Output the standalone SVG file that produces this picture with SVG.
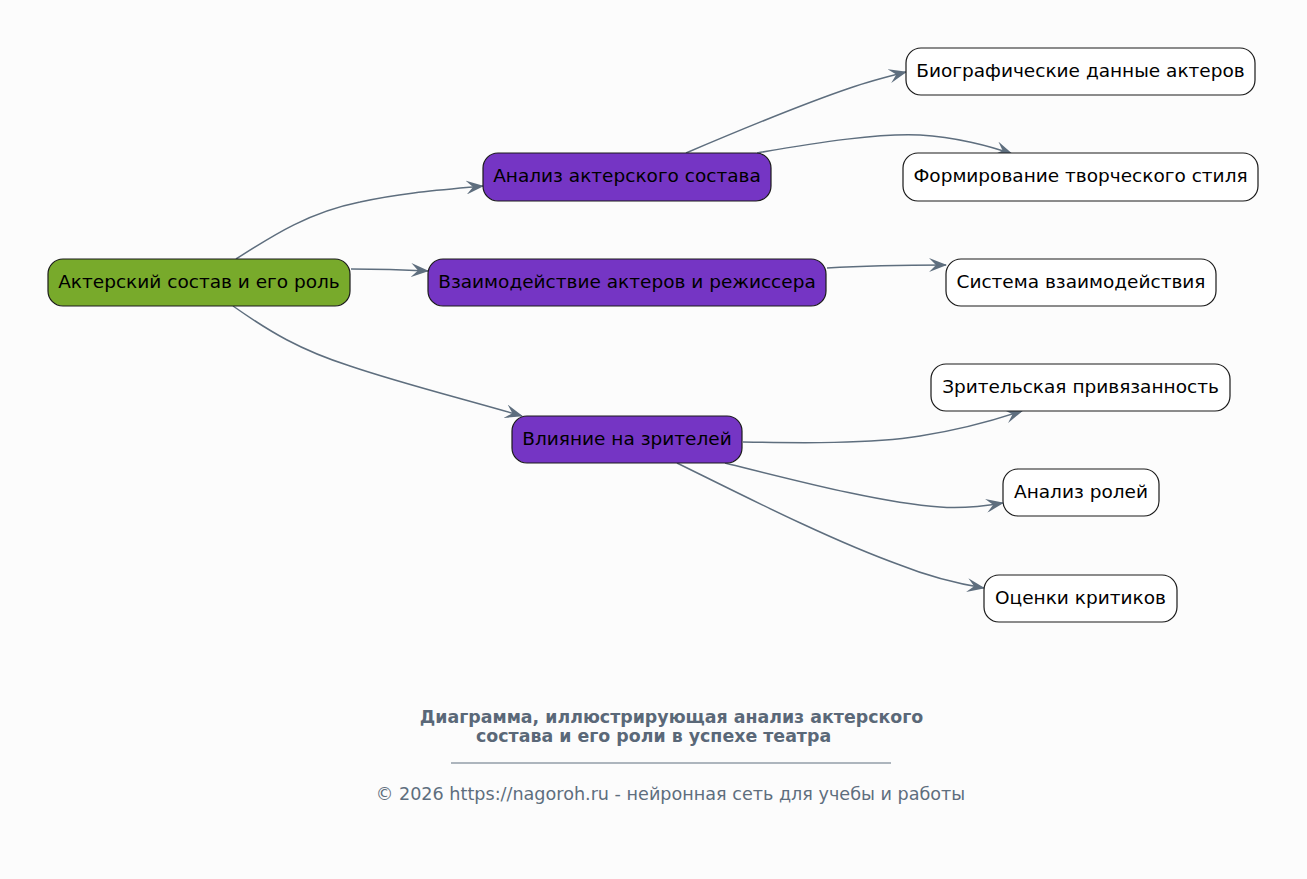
<svg xmlns="http://www.w3.org/2000/svg" width="1307" height="879" viewBox="0 0 1307 879">
<defs>
<style>
.bg{fill:#fcfcfc}
.n rect{stroke:#1a1a1a;stroke-width:1.2}
.root rect{fill:#78aa2b}
.mid rect{fill:#7535c4}
.leaf rect{fill:#ffffff}
.n text{font-family:"DejaVu Sans",sans-serif;font-size:18.5px;fill:#000;text-anchor:middle}
.e path{fill:none;stroke:#5e6e7e;stroke-width:1.5;marker-end:url(#ah)}
.t{font-family:"DejaVu Sans",sans-serif;font-size:17.4px;font-weight:bold;fill:#5a6878}
.f{font-family:"DejaVu Sans",sans-serif;font-size:17.6px;fill:#5e6e7e}
</style>
<marker id="ah" viewBox="0 0 18 14" refX="17" refY="7" markerWidth="18" markerHeight="14" markerUnits="userSpaceOnUse" orient="auto">
<path d="M0,0 L18,7 L0,14 L7,7 z" fill="#5e6e7e"/>
</marker>
</defs>
<rect class="bg" x="0" y="0" width="1307" height="879"/>
<g id="edges" class="e">
<path d="M236,259 C275,234 310,212 360,202 C400,193 440,190 483,186"/>
<path d="M351,269 C370,269 390,269 428,271"/>
<path d="M233,306 C270,332 300,350 350,366 C400,383 460,398 522,416"/>
<path d="M686,153 C740,130 800,105 850,88 C870,81 890,76 906,72"/>
<path d="M757,153 C820,142 880,133 920,135 C955,137 990,146 1012,154"/>
<path d="M827,268 C860,266 900,265 946,265"/>
<path d="M743,442 C800,443 870,444 920,436 C960,430 995,420 1022,411"/>
<path d="M725,463 C790,479 880,503 940,507 C965,509 985,506 1003,503"/>
<path d="M677,463 C740,494 830,540 900,565 C930,577 960,584 984,588"/>
</g>
<g id="n_root" class="n root"><rect x="48" y="259" width="302" height="47" rx="15"/><text x="199" y="288">Актерский состав и его роль</text></g>
<g id="n_analiz" class="n mid"><rect x="483" y="153" width="288" height="48" rx="15"/><text x="627" y="182">Анализ актерского состава</text></g>
<g id="n_vzaim" class="n mid"><rect x="428" y="259" width="398" height="47" rx="15"/><text x="627" y="288">Взаимодействие актеров и режиссера</text></g>
<g id="n_vliyanie" class="n mid"><rect x="512" y="416" width="230" height="47" rx="15"/><text x="627" y="445">Влияние на зрителей</text></g>
<g id="n_bio" class="n leaf"><rect x="906" y="48" width="349" height="47" rx="15"/><text x="1080.5" y="77">Биографические данные актеров</text></g>
<g id="n_form" class="n leaf"><rect x="903" y="153" width="355" height="48" rx="15"/><text x="1080.5" y="182">Формирование творческого стиля</text></g>
<g id="n_sist" class="n leaf"><rect x="946" y="259" width="270" height="47" rx="15"/><text x="1081" y="288">Система взаимодействия</text></g>
<g id="n_zrit" class="n leaf"><rect x="931" y="364" width="299" height="47" rx="15"/><text x="1080.5" y="393">Зрительская привязанность</text></g>
<g id="n_roli" class="n leaf"><rect x="1003" y="469" width="156" height="47" rx="15"/><text x="1081" y="498">Анализ ролей</text></g>
<g id="n_krit" class="n leaf"><rect x="984" y="575" width="193" height="47" rx="15"/><text x="1080.5" y="604">Оценки критиков</text></g>
<g id="caption">
<text class="t" x="671.5" y="723" text-anchor="middle">Диаграмма, иллюстрирующая анализ актерского</text>
<text class="t" x="476" y="742">состава и его роли в успехе театра</text>
<line x1="451" y1="763" x2="891" y2="763" stroke="#5e6e7e" stroke-width="1"/>
<text class="f" x="670.5" y="800" text-anchor="middle">© 2026 https://nagoroh.ru - нейронная сеть для учебы и работы</text>
</g>
</svg>
